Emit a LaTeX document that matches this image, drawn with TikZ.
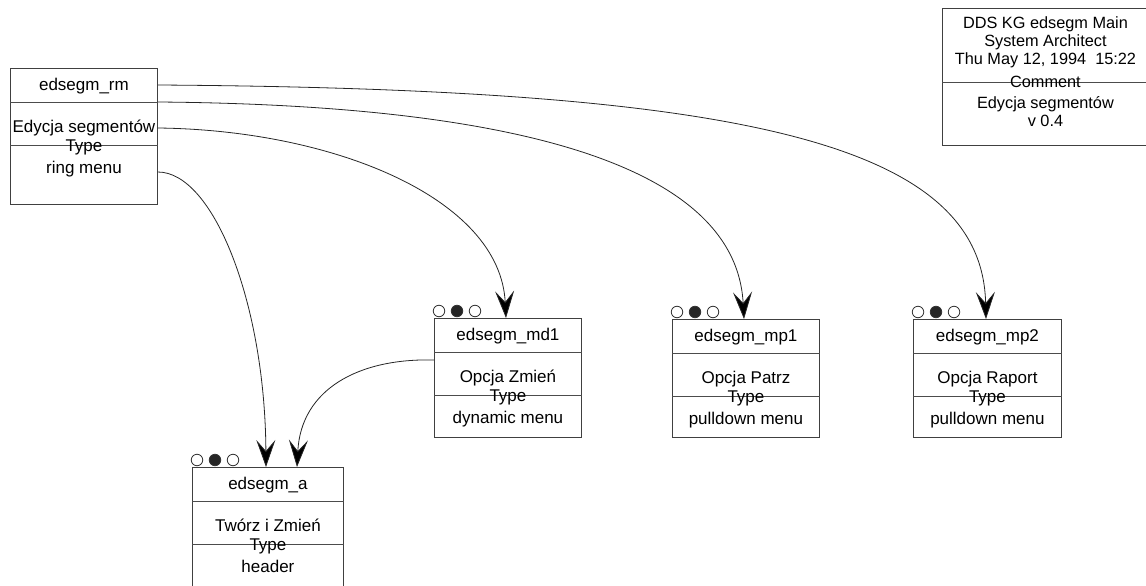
\documentclass[tikz,border=0pt]{standalone}
\usepackage{fontspec}
\setmainfont{Liberation Sans}
\usetikzlibrary{arrows.meta}

% One operation box: name, left x, top y, width, height, title, value, type value
\newcommand\opbox[8]{%
  \node[frame, anchor=north west, minimum width=#4pt, minimum height=#5pt] (#1) at (#2,#3) {};
  \draw[rule] ([yshift=-34pt]#1.north west) -- ([yshift=-34pt]#1.north east);
  \draw[rule] ([yshift=-77pt]#1.north west) -- ([yshift=-77pt]#1.north east);
  \node[lbl] (#1-title) at ([yshift=-22pt]#1.north) {#6};
  \node[lbl] (#1-value) at ([yshift=-64pt]#1.north) {#7};
  \node[lbl] (#1-typekey) at ([yshift=-83pt]#1.north) {Type};
  \node[lbl] (#1-type) at ([yshift=-105pt]#1.north) {#8};
}
% Three status lamps above a box, the middle one lit
\newcommand\lamps[1]{%
  \node[lamp] (#1-l1) at ([xshift=5pt,yshift=7pt]#1.north west) {};
  \node[lamp, fill=black!85] (#1-l2) at ([xshift=23pt,yshift=7pt]#1.north west) {};
  \node[lamp] (#1-l3) at ([xshift=41pt,yshift=7pt]#1.north west) {};
}

\begin{document}
\begin{tikzpicture}[x=1pt, y=-1pt,
  frame/.style={draw=black!75, line width=0.9pt, inner sep=0pt},
  rule/.style={draw=black!70, line width=0.8pt},
  lbl/.style={anchor=base, inner sep=0pt, font=\fontsize{17}{20}\selectfont},
  hlbl/.style={anchor=base, inner sep=0pt, font=\fontsize{16.3}{19}\selectfont},
  link/.style={draw=black!85, line width=0.8pt,
    arrows={-Stealth[length=27pt, width=19pt, inset=11pt, fill=black]}},
  lamp/.style={draw=black!80, line width=0.8pt, circle, minimum size=11.5pt, inner sep=0pt}]
\useasboundingbox (0,0) rectangle (1146,586);
\clip (0,0) rectangle (1146,586);

% header box
\node[frame, anchor=north west, minimum width=206pt, minimum height=137pt] (hdr) at (942,8) {};
\draw[rule] ([yshift=-74pt]hdr.north west) -- ([yshift=-74pt]hdr.north east);
\node[hlbl] (hdr-1) at ([yshift=-20.5pt]hdr.north) {DDS KG edsegm Main};
\node[hlbl] (hdr-2) at ([yshift=-38.8pt]hdr.north) {System Architect};
\node[hlbl] (hdr-3) at ([yshift=-57pt]hdr.north) {Thu May 12, 1994\ \ 15:22};
\node[hlbl] (hdr-4) at ([yshift=-79.5pt]hdr.north) {Comment};
\node[hlbl] (hdr-5) at ([yshift=-100pt]hdr.north) {Edycja segmentów};
\node[hlbl] (hdr-6) at ([yshift=-118pt]hdr.north) {v 0.4};

% boxes
\opbox{rm}{10}{68}{147}{136}{edsegm\_rm}{Edycja segmentów}{ring menu}
\opbox{md1}{434}{318}{147}{119}{edsegm\_md1}{Opcja Zmień}{dynamic menu}
\opbox{mp1}{672}{319}{147}{118}{edsegm\_mp1}{Opcja Patrz}{pulldown menu}
\opbox{mp2}{913}{319}{148}{118}{edsegm\_mp2}{Opcja Raport}{pulldown menu}
\opbox{a}{192}{467}{151}{160}{edsegm\_a}{Twórz i Zmień}{header}
\lamps{md1}
\lamps{mp1}
\lamps{mp2}
\lamps{a}

% connector ends
\coordinate (rm-o1) at ([yshift=-17pt]rm.north east);
\coordinate (rm-o2) at ([yshift=-34pt]rm.north east);
\coordinate (rm-o3) at ([yshift=-60pt]rm.north east);
\coordinate (rm-o4) at ([yshift=-104pt]rm.north east);
\coordinate (md1-o) at ([yshift=-42pt]md1.north west);
\coordinate (md1-in) at ([xshift=72pt]md1.north west);
\coordinate (mp1-in) at ([xshift=72pt]mp1.north west);
\coordinate (mp2-in) at ([xshift=73pt]mp2.north west);
\coordinate (a-in1) at ([xshift=74pt]a.north west);
\coordinate (a-in2) at ([xshift=105pt]a.north west);

% connectors
\draw[link] (rm-o1) .. controls +(590,4) and +(-4,-175) .. (mp2-in);
\draw[link] (rm-o2) .. controls +(370,3) and +(-8,-150) .. (mp1-in);
\draw[link] (rm-o3) .. controls +(175,2) and +(-6,-120) .. (md1-in);
\draw[link] (rm-o4) .. controls +(55,0) and +(-1,-165) .. (a-in1);
\draw[link] (md1-o) .. controls +(-75,-2) and +(4,-78) .. (a-in2);
\end{tikzpicture}
\end{document}
